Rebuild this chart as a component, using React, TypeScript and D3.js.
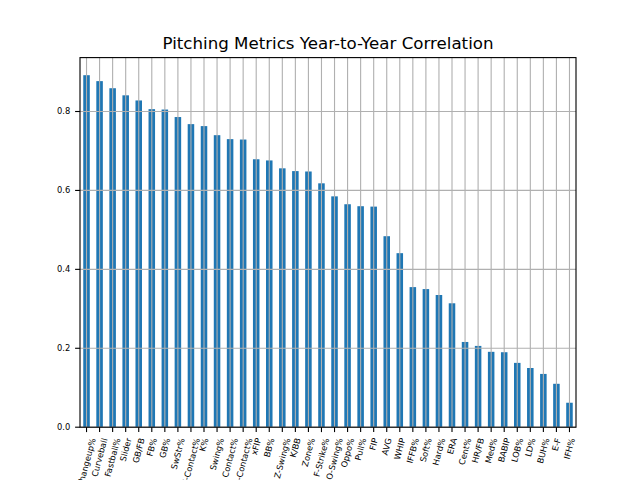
// App.tsx
// Pitching metrics year-to-year correlation bar chart
import React, { useEffect, useRef } from "react"
import * as d3 from "d3"

const metrics: string[] = [
    "Changeup%", "Curveball", "Fastball%", "Slider", "GB/FB", "FB%", "GB%", "SwStr%",
    "Z-Contact%", "K%", "Swing%", "Contact%", "O-Contact%", "xFIP", "BB%", "Z-Swing%",
    "K/BB", "Zone%", "F-Strike%", "O-Swing%", "Oppo%", "Pull%", "FIP", "AVG", "WHIP",
    "IFFB%", "Soft%", "Hard%", "ERA", "Cent%", "HR/FB", "Med%", "BABIP", "LOB%", "LD%",
    "BUH%", "E-F", "IFH%",
]

const correlations: number[] = [
    0.892, 0.877, 0.859, 0.841, 0.828, 0.806, 0.805, 0.786,
    0.768, 0.763, 0.740, 0.730, 0.729, 0.679, 0.676, 0.656,
    0.649, 0.648, 0.618, 0.585, 0.565, 0.560, 0.559, 0.484, 0.441,
    0.355, 0.350, 0.335, 0.314, 0.216, 0.206, 0.191, 0.190, 0.163, 0.150,
    0.135, 0.110, 0.062,
]

const yTicks: number[] = [0, 0.2, 0.4, 0.6, 0.8]

const chartTitle = "Pitching Metrics Year-to-Year Correlation"

const width = 640
const height = 480
const margin = { left: 80, right: 64, top: 57.6, bottom: 52.8 }
const font = "DejaVu Sans, sans-serif"

export default function App() {
    const ref = useRef<SVGSVGElement>(null)

    useEffect(() => {
        const svg = d3.select(ref.current)
        svg.selectAll("*").remove()

        const x0 = margin.left
        const x1 = width - margin.right
        const y0 = height - margin.bottom
        const y1 = margin.top

        // pandas bar plot: categories at integer positions, xlim -0.5..n-0.5
        const x = d3.scaleLinear().domain([-0.5, metrics.length - 0.5]).range([x0, x1])
        const y = d3.scaleLinear().domain([0, d3.max(correlations)! * 1.05]).range([y0, y1])
        const barW = x(0.25) - x(-0.25)

        svg.append("rect").attr("width", width).attr("height", height).attr("fill", "#fff")

        // bars
        svg.append("g")
            .selectAll("rect")
            .data(correlations)
            .enter()
            .append("rect")
            .attr("x", (_d, i) => x(i) - barW / 2)
            .attr("y", (d) => y(d))
            .attr("width", barW)
            .attr("height", (d) => y0 - y(d))
            .attr("fill", "#1f77b4")

        // grid on top of bars
        const grid = svg.append("g").attr("stroke", "#b0b0b0").attr("stroke-width", 1.11)
        grid.selectAll("line.v")
            .data(metrics)
            .enter()
            .append("line")
            .attr("class", "v")
            .attr("x1", (_d, i) => x(i))
            .attr("x2", (_d, i) => x(i))
            .attr("y1", y0)
            .attr("y2", y1)
        grid.selectAll("line.h")
            .data(yTicks)
            .enter()
            .append("line")
            .attr("class", "h")
            .attr("x1", x0)
            .attr("x2", x1)
            .attr("y1", (d) => y(d))
            .attr("y2", (d) => y(d))

        // spines
        svg.append("rect")
            .attr("x", x0)
            .attr("y", y1)
            .attr("width", x1 - x0)
            .attr("height", y0 - y1)
            .attr("fill", "none")
            .attr("stroke", "#000")
            .attr("stroke-width", 1.11)

        // y axis
        const yAxis = svg.append("g")
        yAxis.selectAll("line")
            .data(yTicks)
            .enter()
            .append("line")
            .attr("x1", x0 - 4.9)
            .attr("x2", x0)
            .attr("y1", (d) => y(d))
            .attr("y2", (d) => y(d))
            .attr("stroke", "#000")
            .attr("stroke-width", 1.11)
        yAxis.selectAll("text")
            .data(yTicks)
            .enter()
            .append("text")
            .attr("x", x0 - 9.8)
            .attr("y", (d) => y(d))
            .attr("dy", "0.35em")
            .attr("text-anchor", "end")
            .attr("font-family", font)
            .attr("font-size", 8.33)
            .text((d) => d3.format(".1f")(d))

        // x axis, labels rotated 75deg, centred bbox under the tick
        const xAxis = svg.append("g")
        xAxis.selectAll("line")
            .data(metrics)
            .enter()
            .append("line")
            .attr("x1", (_d, i) => x(i))
            .attr("x2", (_d, i) => x(i))
            .attr("y1", y0)
            .attr("y2", y0 + 4.9)
            .attr("stroke", "#000")
            .attr("stroke-width", 1.11)

        const fs = 8.33
        const rot = (75 * Math.PI) / 180
        const lineH = fs * 1.164
        xAxis.selectAll("text")
            .data(metrics)
            .enter()
            .append("text")
            .attr("text-anchor", "middle")
            .attr("dy", "0.346em")
            .attr("font-family", font)
            .attr("font-size", fs)
            .text((d) => d)
            .each(function (_d, i) {
                const len = (this as SVGTextElement).getComputedTextLength()
                const boxH = len * Math.sin(rot) + lineH * Math.cos(rot)
                const cy = y0 + 9.8 + boxH / 2
                d3.select(this).attr("transform", `translate(${x(i)},${cy}) rotate(-75)`)
            })

        // title
        svg.append("text")
            .attr("x", (x0 + x1) / 2)
            .attr("y", y1 - 8.33)
            .attr("text-anchor", "middle")
            .attr("font-family", font)
            .attr("font-size", 16.67)
            .text(chartTitle)
    }, [])

    return <svg ref={ref} width={width} height={height} style={{ position: "absolute", left: 0, top: 0 }} />
}
